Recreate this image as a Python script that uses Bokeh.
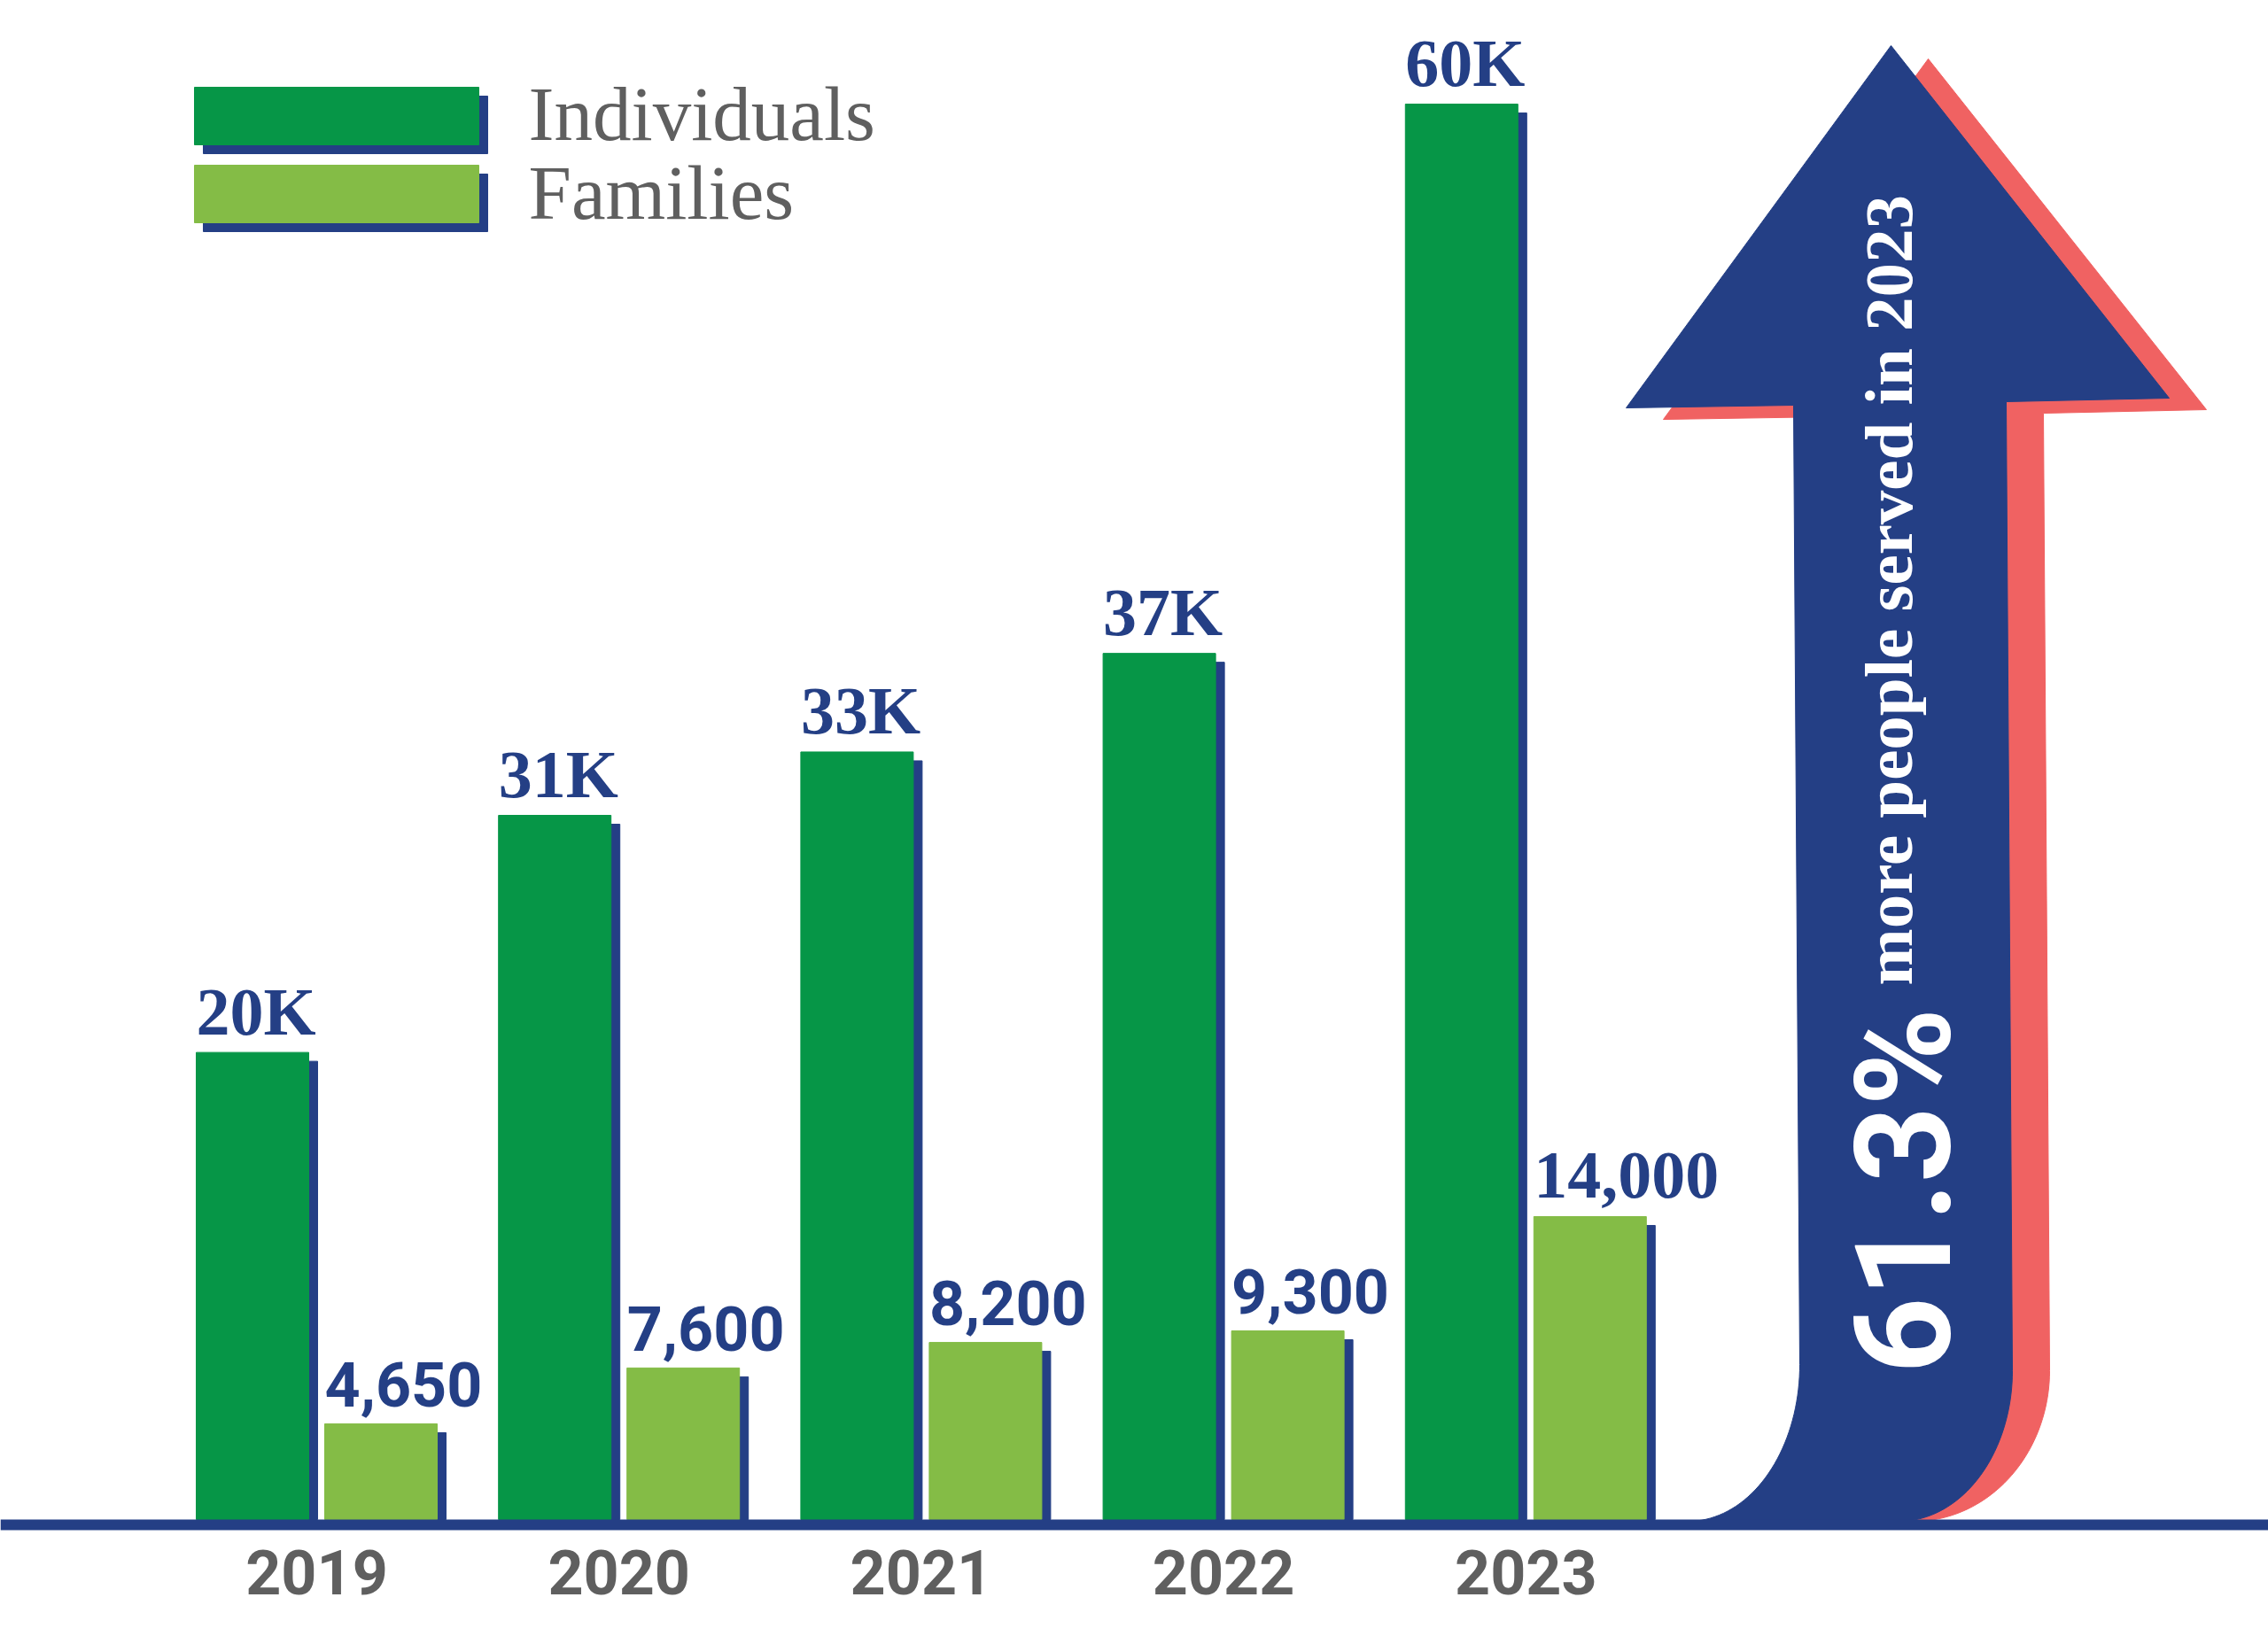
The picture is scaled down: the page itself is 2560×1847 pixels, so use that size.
import numpy as np
from bokeh.plotting import figure
from bokeh.models import Range1d, ColumnDataSource
from bokeh.core.properties import value
from bokeh.embed import file_html
from bokeh.resources import INLINE

# ---------------- data (bar heights) ----------------
years = ["2019", "2020", "2021", "2022", "2023"]
individuals_k = [19.9, 30.0, 32.7, 36.9, 60.3]
individuals_labels = ["20K", "31K", "33K", "37K", "60K"]
families = [4540, 7190, 8400, 8950, 14370]
families_labels = ["4,650", "7,600", "8,200", "9,300", "14,000"]
series_names = ["Individuals", "Families"]
headline_value = "61.3%"
headline_text = "more people served in 2023"

# ---------------- styles / layout ----------------
GREEN = "#069647"
LIGHT_GREEN = "#84BC46"
NAVY = "#243F85"
RED = "#F06262"
GRAY = "#5F5F5F"
SLAB = "Liberation Serif"
SANS = "Roboto"

W, H = 2560, 1847
X0, Y0 = 0, 0
BASE_Y = 1715
IND_PX = 26.5          # px per 1K individuals
FAM_PX = 0.0238        # px per family
BAR_W = 127
IND_LEFT0 = 221
GROUP_STEP = 341.2
FAM_DX = 145
SHADOW = 10
LABEL_GAP = 20
SHIFT = 0.35           # em correction of the rendered baseline
IND_LABEL_SIZE = 76
fam_label_fonts = [SANS, SANS, SANS, SANS, SLAB]
fam_label_sizes = [70, 70, 70, 70, 76]

p = figure(width=W, height=H,
           x_range=Range1d(X0, X0 + W),
           y_range=Range1d((BASE_Y - (Y0 + H)) / IND_PX, (BASE_Y - Y0) / IND_PX),
           output_backend="svg", toolbar_location=None, min_border=0,
           x_axis_type=None, y_axis_type=None)
p.extra_y_ranges = {
    "fam": Range1d((BASE_Y - (Y0 + H)) / FAM_PX, (BASE_Y - Y0) / FAM_PX),
    "px": Range1d(Y0 + H, Y0),
}
p.grid.visible = False
p.outline_line_color = None
p.background_fill_color = "white"
p.border_fill_color = "white"


def arc(cx, cy, rx, ry, t0, t1, n=40):
    t = np.radians(np.linspace(t0, t1, n))
    return list(cx + rx * np.cos(t)), list(cy + ry * np.sin(t))


# ---------------- arrow (decoration) ----------------
rx1, ry1 = arc(2160, 1547, 153, 170, 0, 90)
red_x = [2176, 2490, 2306, 2313] + rx1 + [2000, 2066, 2066, 1877]
red_y = [66, 462, 466, 1547] + ry1 + [1717, 1547, 470, 473]
p.patch(red_x, red_y, color=RED, y_range_name="px")

bx1, by1 = arc(2143, 1547, 128, 170, 0, 90)
bx2, by2 = arc(1905, 1540, 126, 177, 90, 0)
blue_x = [2134, 2448, 2264, 2271] + bx1 + bx2 + [2024, 1835]
blue_y = [51, 449, 453, 1547] + by1 + by2 + [457, 460]
p.patch(blue_x, blue_y, color=NAVY, y_range_name="px")

# ---------------- bars ----------------
ind_x = [IND_LEFT0 + BAR_W / 2 + i * GROUP_STEP for i in range(len(years))]
fam_x = [c + FAM_DX for c in ind_x]

ind_src = ColumnDataSource(dict(
    x=ind_x, top=individuals_k, label=individuals_labels,
    sx=[c + SHADOW for c in ind_x],
    stop=[v - SHADOW / IND_PX for v in individuals_k],
    left=[c - BAR_W / 2 for c in ind_x],
    ly=[v + (LABEL_GAP + SHIFT * IND_LABEL_SIZE) / IND_PX for v in individuals_k]))
fam_src = ColumnDataSource(dict(
    x=fam_x, top=families, label=families_labels,
    sx=[c + SHADOW for c in fam_x],
    stop=[v - SHADOW / FAM_PX for v in families],
    left=[c - BAR_W / 2 for c in fam_x],
    ly=[v + (LABEL_GAP + SHIFT * s) / FAM_PX for v, s in zip(families, fam_label_sizes)],
    font=fam_label_fonts, size=[f"{s}px" for s in fam_label_sizes]))

p.vbar(x="sx", top="stop", bottom=0, width=BAR_W, source=ind_src, color=NAVY)
p.vbar(x="x", top="top", bottom=0, width=BAR_W, source=ind_src, color=GREEN)
p.vbar(x="sx", top="stop", bottom=0, width=BAR_W, source=fam_src, color=NAVY, y_range_name="fam")
p.vbar(x="x", top="top", bottom=0, width=BAR_W, source=fam_src, color=LIGHT_GREEN, y_range_name="fam")

# baseline
p.line([X0, X0 + W], [BASE_Y + 6, BASE_Y + 6], line_width=12, color=NAVY, y_range_name="px")

# value labels
p.text(x="left", y="ly", text="label", source=ind_src,
       text_font=value(SLAB), text_font_style="bold", text_font_size=f"{IND_LABEL_SIZE}px",
       text_color=NAVY, text_align="left", text_baseline="alphabetic")
p.text(x="left", y="ly", text="label", source=fam_src, y_range_name="fam",
       text_font="font", text_font_style="bold", text_font_size="size",
       text_color=NAVY, text_align="left", text_baseline="alphabetic")

# year labels
p.text(x=[(a + b) / 2 for a, b in zip(ind_x, fam_x)], y=[1799 - SHIFT * 70] * len(years), text=years,
       y_range_name="px", text_font=value(SANS), text_font_style="bold", text_font_size="70px",
       text_color=GRAY, text_align="center", text_baseline="alphabetic")

# ---------------- legend ----------------
leg_left, leg_right = 219, 540
leg_tops = [98, 186]
leg_h = 65
leg_colors = [GREEN, LIGHT_GREEN]
p.quad(left=[leg_left + SHADOW] * 2, right=[leg_right + SHADOW] * 2,
       top=[t + SHADOW for t in leg_tops], bottom=[t + leg_h + SHADOW for t in leg_tops],
       color=NAVY, y_range_name="px")
p.quad(left=[leg_left] * 2, right=[leg_right] * 2,
       top=leg_tops, bottom=[t + leg_h for t in leg_tops],
       color=leg_colors, y_range_name="px")
p.text(x=[596, 596], y=[158 - SHIFT * 87, 247 - SHIFT * 87], text=series_names, y_range_name="px",
       text_font=value(SLAB), text_font_size="87px", text_color=GRAY,
       text_align="left", text_baseline="alphabetic")

# ---------------- arrow texts ----------------
p.text(x=[2202 - SHIFT * 150], y=[1550], text=[headline_value], angle=np.pi / 2, y_range_name="px",
       text_font=value(SANS), text_font_style="bold", text_font_size="150px",
       text_color="white", text_align="left", text_baseline="alphabetic")
p.text(x=[2158 - SHIFT * 77], y=[1112], text=[headline_text], angle=np.pi / 2, y_range_name="px",
       text_font=value(SLAB), text_font_style="bold", text_font_size="77px",
       text_color="white", text_align="left", text_baseline="alphabetic")

open("out.html", "w").write(file_html(p, INLINE))
